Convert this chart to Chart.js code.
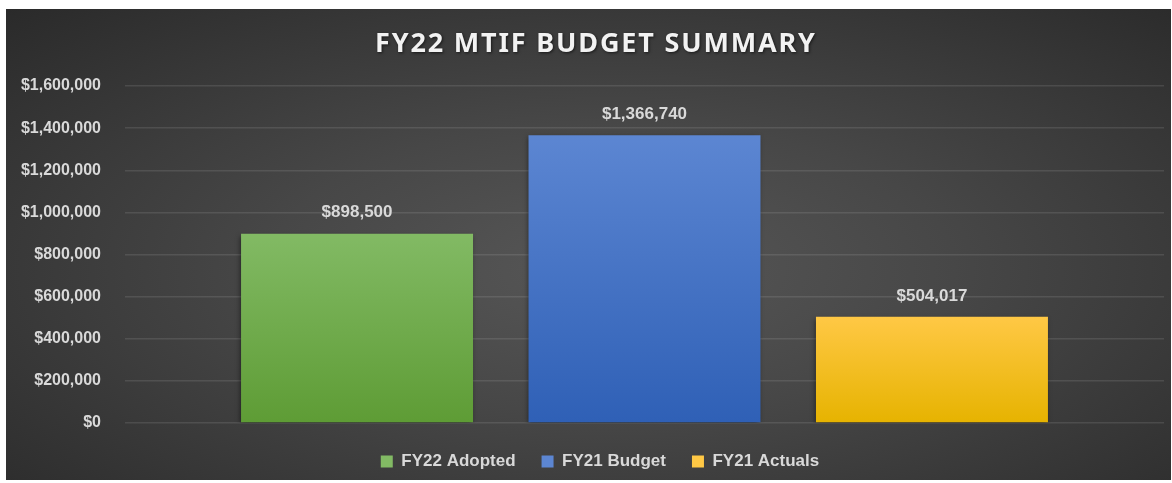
<!DOCTYPE html>
<html>
<head>
<meta charset="utf-8">
<title>FY22 MTIF Budget Summary</title>
<script src="https://cdn.jsdelivr.net/npm/chart.js"></script>
<style>
  html, body { margin: 0; padding: 0; background: #ffffff; }
  #wrap {
    position: absolute; left: 6px; top: 9px; width: 1165px; height: 471px;
    background: radial-gradient(ellipse at 52% 55%, #575757 0%, #474747 40%, #2a2a2a 100%);
  }
</style>
</head>
<body>
<div id="wrap"><canvas id="myChart"></canvas></div>
<script>
  // chart values
  var titleText = 'FY22 MTIF BUDGET SUMMARY';
  var categories = ['FY22 Adopted', 'FY21 Budget', 'FY21 Actuals'];
  var amounts = [898500, 1366740, 504017];
  var topColors = ['#82ba64', '#5c86d2', '#ffc845'];
  var bottomColors = ['#5e9c35', '#2f60b6', '#e6b300'];
  var yMax = 1600000;
  var yStep = 200000;

  function money(v) {
    return '$' + Math.round(v).toLocaleString('en-US');
  }

  function barFill(i) {
    return function (c) {
      var chart = c.chart;
      if (!chart.chartArea) return topColors[i];
      var y = chart.scales.y;
      var top = y.getPixelForValue(amounts[i]);
      var bottom = y.getPixelForValue(0);
      var g = chart.ctx.createLinearGradient(0, top, 0, bottom);
      g.addColorStop(0, topColors[i]);
      g.addColorStop(1, bottomColors[i]);
      return g;
    };
  }

  var datasets = categories.map(function (name, i) {
    return {
      label: name,
      data: [amounts[i]],
      backgroundColor: barFill(i),
      borderWidth: 0,
      categoryPercentage: 0.83,
      barPercentage: 0.807
    };
  });

  // title with letter spacing + shadow
  var titlePlugin = {
    id: 'titlePlugin',
    afterDraw: function (chart) {
      var ctx = chart.ctx;
      ctx.save();
      ctx.font = 'bold 27px "Noto Sans"';
      ctx.letterSpacing = '0px';
      var w = ctx.measureText(titleText).width;
      var spacing = Math.max(0, (440 - w) / (titleText.length - 1));
      ctx.letterSpacing = spacing + 'px';
      ctx.fillStyle = '#f2f2f2';
      ctx.textAlign = 'left';
      ctx.textBaseline = 'middle';
      ctx.shadowColor = 'rgba(0,0,0,0.6)';
      ctx.shadowBlur = 3;
      ctx.shadowOffsetX = 1;
      ctx.shadowOffsetY = 1;
      ctx.fillText(titleText, 589 - 220, 35);
      ctx.restore();
    }
  };

  // nudge the legend a little right, like the original
  var legendShift = {
    id: 'legendShift',
    afterLayout: function (chart) {
      if (chart.legend) {
        chart.legend.left += 15;
        chart.legend.right += 15;
      }
    }
  };

  // bar shadows
  var shadowPlugin = {
    id: 'shadowPlugin',
    beforeDatasetsDraw: function (chart) {
      var ctx = chart.ctx;
      ctx.save();
      ctx.shadowColor = 'rgba(0,0,0,0.55)';
      ctx.shadowBlur = 5;
      ctx.shadowOffsetX = -1;
      ctx.shadowOffsetY = 2;
    },
    afterDatasetsDraw: function (chart) {
      chart.ctx.restore();
    }
  };

  // value labels above bars
  var valueLabels = {
    id: 'valueLabels',
    afterDatasetsDraw: function (chart) {
      var ctx = chart.ctx;
      ctx.save();
      ctx.font = 'bold 17px "Liberation Sans"';
      ctx.fillStyle = '#d9d9d9';
      ctx.textAlign = 'center';
      ctx.textBaseline = 'middle';
      chart.data.datasets.forEach(function (ds, i) {
        var bar = chart.getDatasetMeta(i).data[0];
        ctx.fillText(money(ds.data[0]), bar.x, bar.y - 21);
      });
      ctx.restore();
    }
  };

  var ctx = document.getElementById('myChart');
  var myChart = new Chart(ctx, {
    type: 'bar',
    data: { labels: [''], datasets: datasets },
    options: {
      responsive: true,
      maintainAspectRatio: false,
      animation: false,
      layout: { padding: { top: 77, right: 7, left: 0, bottom: 0 } },
      scales: {
        x: {
          display: true,
          border: { display: false },
          grid: { display: true, drawOnChartArea: false, drawTicks: true, tickLength: 4, color: 'rgba(0,0,0,0)' },
          ticks: { display: false }
        },
        y: {
          min: 0,
          max: yMax,
          border: { display: false },
          grid: { color: 'rgba(217,217,217,0.13)', lineWidth: 1.5, drawTicks: false },
          ticks: {
            stepSize: yStep,
            padding: 24,
            color: '#d9d9d9',
            font: { family: '"Liberation Sans"', size: 16, weight: 'bold' },
            callback: function (v) { return money(v); }
          },
          afterFit: function (s) { s.width = 119; }
        }
      },
      plugins: {
        title: { display: false },
        tooltip: { enabled: false },
        legend: {
          position: 'bottom',
          labels: {
            boxWidth: 12,
            boxHeight: 12,
            padding: 26,
            color: '#d9d9d9',
            font: { family: '"Liberation Sans"', size: 17, weight: 'bold' },
            generateLabels: function (chart) {
              return chart.data.datasets.map(function (ds, i) {
                return {
                  text: ds.label,
                  fillStyle: topColors[i],
                  strokeStyle: topColors[i],
                  lineWidth: 0,
                  fontColor: '#d9d9d9',
                  datasetIndex: i
                };
              });
            }
          }
        }
      }
    },
    plugins: [legendShift, shadowPlugin, valueLabels, titlePlugin]
  });
</script>
</body>
</html>
